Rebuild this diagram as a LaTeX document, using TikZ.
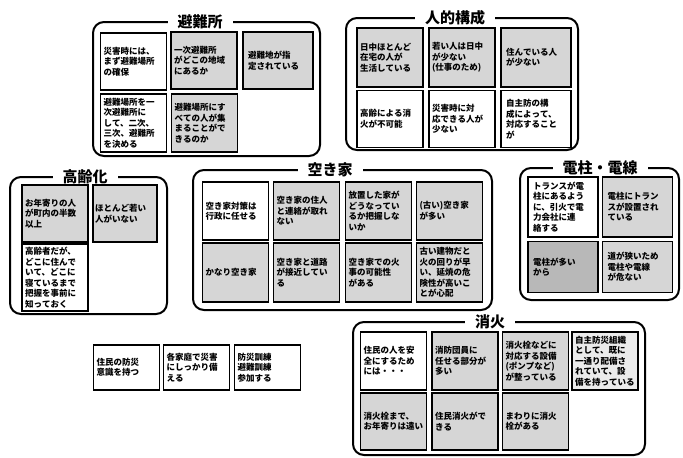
\documentclass[tikz,border=0pt]{standalone}
\usepackage{fontspec}
\setmainfont{Noto Sans CJK JP}
\XeTeXlinebreaklocale "ja"
\begin{document}
\begin{tikzpicture}[x=1pt,y=-1pt,
  card/.style={draw, line width=1.4pt, minimum width=66pt, minimum height=57pt, inner xsep=2pt, inner ysep=3pt,
    text width=60pt, align=left, font=\fontsize{8.5}{10.5}\selectfont\bfseries},
  hat/.style={fill=black!16},
  hatd/.style={fill=black!28},
  grp/.style={draw, line width=2pt, rounded corners=11pt},
  ttl/.style={fill=white, inner xsep=10pt, inner ysep=1pt, font=\fontsize{15}{15}\selectfont\bfseries}]
\useasboundingbox (0,0) rectangle (683,458);

% ---- 避難所
\node[grp, minimum width=227pt, minimum height=134pt] (G1) at (206.5,89) {};
\node[ttl] (T1) at (200,22) {避難所};
\node[card] (h1) at (133.5,61.5) {災害時には、\\まず避難場所\\の確保};
\node[card,hat] (h2) at (204,60.5) {一次避難所\\がどこの地域\\にあるか};
\node[card,hat,minimum width=70pt] (h3) at (278,60.5) {避難地が指\\定されている};
\node[card,minimum height=58pt] (h4) at (133.5,123) {避難場所を一\\次避難所に\\して、二次、\\三次、避難所\\を決める};
\node[card,hat,minimum height=58pt] (h5) at (204.5,123) {避難場所にす\\べての人が集\\まることがで\\きるのか};

% ---- 人的構成
\node[grp, minimum width=232pt, minimum height=132pt] (G2) at (462,84) {};
\node[ttl] (T2) at (455,18) {人的構成};
\node[card,hat,minimum height=59pt] (p1) at (390,57.5) {日中ほとんど\\在宅の人が\\生活している};
\node[card,hat,minimum height=59pt] (p2) at (462,57.5) {若い人は日中\\が少ない\\(仕事のため)};
\node[card,hat,minimum height=59pt,minimum width=70pt] (p3) at (536,57.5) {住んでいる人\\が少ない};
\node[card] (p4) at (390,119) {高齢による消\\火が不可能};
\node[card] (p5) at (462,119) {災害時に対\\応できる人が\\少ない};
\node[card,minimum width=70pt] (p6) at (536,119) {自主防の構\\成によって、\\対応すること\\が};

% ---- 高齢化
\node[grp, minimum width=157pt, minimum height=137pt] (G3) at (88.5,245.5) {};
\node[ttl] (T3) at (85,177) {高齢化};
\node[card,hat] (k1) at (55,213.5) {お年寄りの人\\が町内の半数\\以上};
\node[card,hat,minimum width=64pt] (k2) at (125,213.5) {ほとんど若い\\人がいない};
\node[card,minimum height=61pt] (k3) at (55,277.5) {高齢者だが、\\どこに住んで\\いて、どこに\\寝ているまで\\把握を事前に\\知っておく};

% ---- 空き家
\node[grp, minimum width=299pt, minimum height=140pt] (G4) at (342.5,240) {};
\node[ttl] (T4) at (330,170) {空き家};
\node[card,minimum height=58pt] (a1) at (235.5,211) {空き家対策は\\行政に任せる};
\node[card,hat,minimum height=58pt] (a2) at (306.5,211) {空き家の住人\\と連絡が取れ\\ない};
\node[card,hat,minimum height=58pt] (a3) at (378.5,211) {放置した家が\\どうなってい\\るか把握しな\\いか};
\node[card,hat,minimum height=58pt] (a4) at (449.5,211) {(古い)空き家\\が多い};
\node[card,hat,minimum height=59pt] (a5) at (235.5,272.5) {かなり空き家};
\node[card,hat,minimum height=59pt] (a6) at (306.5,272.5) {空き家と道路\\が接近してい\\る};
\node[card,hat,minimum height=59pt] (a7) at (378.5,272.5) {空き家での火\\事の可能性\\がある};
\node[card,hat,minimum height=59pt] (a8) at (449.5,272.5) {古い建物だと\\火の回りが早\\い、延焼の危\\険性が高いこ\\とが心配};

% ---- 電柱・電線
\node[grp, minimum width=159pt, minimum height=132pt] (G5) at (599.5,234) {};
\node[ttl] (T5) at (600,168) {電柱・電線};
\node[card,minimum width=70pt,minimum height=60pt] (d1) at (563,207) {トランスが電\\柱にあるよう\\に、引火で電\\力会社に連\\絡する};
\node[card,hat,minimum width=70pt,minimum height=60pt] (d2) at (637.5,207) {電柱にトラン\\スが設置され\\ている};
\node[card,hatd,minimum width=70pt,minimum height=51pt] (d3) at (563,267) {電柱が多い\\から};
\node[card,hat,minimum width=70pt,minimum height=51pt] (d4) at (637.5,267) {道が狭いため\\電柱や電線\\が危ない};

% ---- 消火
\node[grp, minimum width=292pt, minimum height=133pt] (G6) at (499,388.5) {};
\node[ttl] (T6) at (490,322) {消火};
\node[card,minimum height=58pt] (s1) at (393.5,361) {住民の人を安\\全にするため\\には・・・};
\node[card,hat,minimum height=58pt] (s2) at (465,361) {消防団員に\\任せる部分が\\多い};
\node[card,hat,minimum height=58pt] (s3) at (535.5,361) {消火栓などに\\対応する設備\\(ポンプなど)\\が整っている};
\node[card,fill=black!8,minimum height=58pt] (s4) at (605,361) {自主防災組織\\として、既に\\一通り配備さ\\れていて、設\\備を持っている};
\node[card,hat,minimum height=57pt] (s5) at (393.5,421.5) {消火栓まで、\\お年寄りは遠い};
\node[card,hat,minimum height=57pt] (s6) at (465,421.5) {住民消火がで\\きる};
\node[card,hat,minimum height=57pt] (s7) at (535.5,421.5) {まわりに消火\\栓がある};

% ---- 単独のカード
\node[card,minimum height=45pt] (b1) at (126.5,367.5) {住民の防災\\意識を持つ};
\node[card,minimum height=45pt] (b2) at (196.5,367.5) {各家庭で災害\\にしっかり備\\える};
\node[card,minimum height=45pt] (b3) at (267.5,367.5) {防災訓練\\避難訓練\\参加する};
\end{tikzpicture}
\end{document}
